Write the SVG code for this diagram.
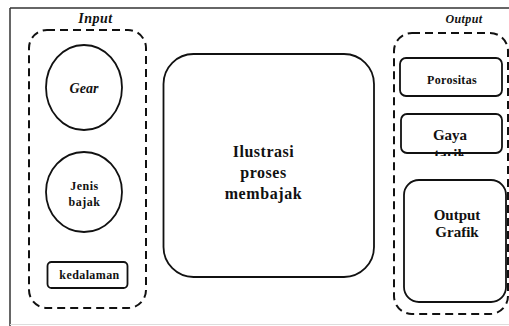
<svg xmlns="http://www.w3.org/2000/svg" width="509" height="326" viewBox="0 0 509 326">
<style>
.t{font-family:"Liberation Serif","Times New Roman",serif;font-weight:bold;fill:#111;text-anchor:middle}
.i{font-style:italic}
.s{fill:none;stroke:#111;stroke-width:1.8}
.d{fill:none;stroke:#111;stroke-width:2;stroke-dasharray:8 5}
</style>
<defs>
<clipPath id="gc"><rect x="395" y="100" width="114" height="56"/></clipPath>
</defs>
<rect width="509" height="326" fill="#fff"/>
<g id="frame">
<line x1="10" y1="8" x2="509" y2="8" stroke="#333" stroke-width="1.5"/>
<line x1="10" y1="8" x2="10" y2="326" stroke="#333" stroke-width="1.5"/>
<line x1="10" y1="324.5" x2="509" y2="324.5" stroke="#ddd" stroke-width="1"/>
</g>
<g id="input-group">
<rect class="d" x="29" y="30" width="117" height="278" rx="18"/>
<text class="t i" x="95.5" y="23" font-size="14" letter-spacing="0.5">Input</text>
</g>
<g id="gear">
<ellipse class="s" cx="84" cy="87.5" rx="38" ry="42.5"/>
<text class="t i" x="84" y="92.5" font-size="14">Gear</text>
</g>
<g id="jenis-bajak">
<ellipse class="s" cx="84" cy="192" rx="38" ry="40"/>
<text class="t" x="84.5" y="190" font-size="12" letter-spacing="0.5">Jenis</text>
<text class="t" x="84.5" y="206" font-size="12" letter-spacing="0.5">bajak</text>
</g>
<g id="kedalaman">
<rect class="s" x="47.5" y="262" width="80" height="26" rx="4"/>
<text class="t" x="89.5" y="278.5" font-size="12" letter-spacing="0.4">kedalaman</text>
</g>
<g id="ilustrasi">
<rect class="s" x="163.5" y="54" width="210.5" height="223" rx="30"/>
<text class="t" x="263.5" y="156.5" font-size="16" letter-spacing="0.5">Ilustrasi</text>
<text class="t" x="263.5" y="177.5" font-size="16" letter-spacing="0.5">proses</text>
<text class="t" x="263.5" y="198.5" font-size="16" letter-spacing="0.6">membajak</text>
</g>
<g id="output-group">
<rect class="d" x="394" y="33" width="114" height="281" rx="18"/>
<text class="t i" x="464" y="23" font-size="12" letter-spacing="0.4">Output</text>
</g>
<g id="porositas">
<rect class="s" x="400" y="58" width="102" height="38" rx="6"/>
<text class="t" x="452" y="84" font-size="12" letter-spacing="0.3">Porositas</text>
</g>
<g id="gaya-tarik">
<rect class="s" x="401" y="114" width="101" height="39" rx="6"/>
<g clip-path="url(#gc)">
<text class="t" x="450" y="140" font-size="15">Gaya</text>
<text class="t" x="450" y="159" font-size="15">tarik</text>
</g>
</g>
<g id="output-grafik">
<rect class="s" x="404" y="180" width="102" height="122" rx="15"/>
<text class="t" x="457" y="220" font-size="15">Output</text>
<text class="t" x="457" y="237" font-size="15">Grafik</text>
</g>
<g id="connectors"></g>
</svg>
